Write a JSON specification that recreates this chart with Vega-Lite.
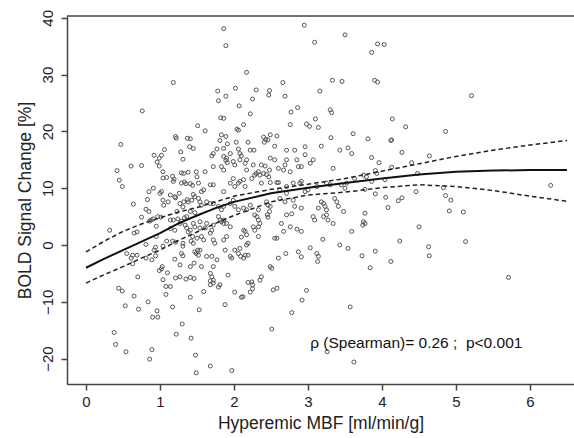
{
  "$schema": "https://vega.github.io/schema/vega-lite/v6.json",
  "width": 507,
  "height": 368,
  "autosize": {"type": "none"},
  "padding": {"left": 67, "top": 16, "right": 0, "bottom": 54},
  "background": "white",
  "config": {
    "view": {"stroke": null},
    "font": "Liberation Sans",
    "axis": {
      "domainColor": "#444444", "domainWidth": 1.5,
      "tickColor": "#444444", "tickWidth": 1.5, "tickSize": 6,
      "labelFont": "Liberation Sans", "labelFontSize": 15, "labelColor": "#222222",
      "titleFont": "Liberation Sans", "titleFontSize": 17.5, "titleFontWeight": "normal", "titleColor": "#222222",
      "grid": false
    }
  },
  "datasets": {
    "pts": [
      {"x":1.18,"y":28.6},{"x":0.76,"y":23.6},{"x":1.51,"y":21.0},{"x":0.47,"y":17.7},{"x":1.21,"y":19.1},{"x":1.22,"y":18.8},{"x":1.37,"y":18.8},{"x":1.41,"y":18.7},{"x":1.06,"y":16.8},{"x":1.40,"y":17.3},
      {"x":1.86,"y":38.1},{"x":1.89,"y":35.1},{"x":2.95,"y":38.7},{"x":3.09,"y":35.7},{"x":3.50,"y":37.0},{"x":3.94,"y":35.4},{"x":4.03,"y":35.3},{"x":3.86,"y":33.9},{"x":2.17,"y":30.4},{"x":2.66,"y":28.6},{"x":3.33,"y":29.0},{"x":3.46,"y":28.8},{"x":3.90,"y":29.0},{"x":3.94,"y":28.7},{"x":1.78,"y":27.1},{"x":2.02,"y":27.6},{"x":2.30,"y":27.3},{"x":2.48,"y":27.2},{"x":2.47,"y":26.4},{"x":3.16,"y":27.1},{"x":1.79,"y":25.4},{"x":1.89,"y":26.2},{"x":2.25,"y":25.7},{"x":2.69,"y":26.2},{"x":2.07,"y":24.5},{"x":2.86,"y":24.2},{"x":2.77,"y":23.4},{"x":3.30,"y":23.8},{"x":3.32,"y":23.3},{"x":2.22,"y":23.1},{"x":1.82,"y":22.4},{"x":1.86,"y":22.3},{"x":3.10,"y":22.2},{"x":2.76,"y":21.2},{"x":2.98,"y":21.3},{"x":3.02,"y":20.9},{"x":3.14,"y":20.7},{"x":2.13,"y":21.2},{"x":1.61,"y":20.1},{"x":2.04,"y":20.4},{"x":2.06,"y":20.2},{"x":3.61,"y":19.6},{"x":3.31,"y":18.9},{"x":3.81,"y":18.7},{"x":1.83,"y":19.4},{"x":1.89,"y":19.1},{"x":1.81,"y":18.4},{"x":1.91,"y":17.8},{"x":2.40,"y":19.0},{"x":2.43,"y":18.6},{"x":2.49,"y":19.4},{"x":2.58,"y":19.2},{"x":2.46,"y":18.5},{"x":2.41,"y":18.1},{"x":2.19,"y":18.1},{"x":2.03,"y":18.1},{"x":2.55,"y":17.4},{"x":2.96,"y":17.3},{"x":3.18,"y":17.4},{"x":3.54,"y":17.1},{"x":1.77,"y":16.9},{"x":1.86,"y":17.0},{"x":2.06,"y":16.9},{"x":2.22,"y":16.7},{"x":2.27,"y":16.7},{"x":2.71,"y":16.7},{"x":2.82,"y":16.7},{"x":3.43,"y":16.7},
      {"x":5.21,"y":26.3},{"x":4.14,"y":22.2},{"x":4.32,"y":20.8},{"x":4.86,"y":20.0},{"x":4.13,"y":18.5},{"x":4.12,"y":18.4},
      {"x":0.42,"y":13.1},{"x":0.45,"y":11.4},{"x":0.49,"y":10.3},{"x":0.61,"y":13.9},{"x":0.75,"y":14.0},{"x":0.32,"y":2.6},{"x":0.64,"y":7.2},{"x":0.65,"y":2.1},{"x":0.69,"y":2.3},{"x":0.75,"y":4.9},{"x":0.81,"y":6.3},{"x":0.85,"y":5.9},{"x":0.83,"y":8.0},{"x":0.85,"y":9.4},{"x":0.91,"y":10.0},{"x":0.86,"y":4.2},{"x":0.88,"y":4.4},{"x":0.91,"y":4.6},{"x":0.97,"y":5.0},{"x":0.95,"y":3.3},{"x":0.92,"y":15.8},{"x":0.96,"y":14.6},{"x":0.99,"y":13.9},{"x":1.02,"y":15.8},{"x":0.99,"y":15.3},{"x":1.04,"y":11.8},{"x":1.02,"y":9.4},{"x":1.00,"y":9.1},{"x":1.05,"y":7.0},{"x":1.01,"y":4.9},{"x":0.95,"y":1.5},{"x":0.55,"y":-1.5},{"x":0.63,"y":-1.8},{"x":0.69,"y":-1.8},{"x":0.61,"y":-2.3},{"x":0.63,"y":-3.3},{"x":0.70,"y":-5.6},{"x":0.44,"y":-7.6},{"x":0.81,"y":-2.3},{"x":0.92,"y":-0.9},{"x":0.94,"y":-0.4},{"x":0.94,"y":-1.9},{"x":0.89,"y":-2.6},{"x":0.81,"y":0.1},{"x":0.99,"y":-4.5},{"x":1.02,"y":-4.2},{"x":1.03,"y":-3.8},{"x":1.04,"y":-6.1},{"x":1.10,"y":-4.9},{"x":1.14,"y":-7.3},{"x":1.08,"y":-7.3},{"x":1.21,"y":-5.8},{"x":1.27,"y":-5.6},{"x":1.35,"y":-6.0},{"x":1.41,"y":-5.7},{"x":1.46,"y":-5.9},{"x":1.27,"y":-3.5},{"x":1.20,"y":-2.5},{"x":1.31,"y":-1.9},{"x":1.49,"y":-1.5},{"x":1.46,"y":-3.2},{"x":1.51,"y":-0.9},{"x":1.04,"y":-0.2},{"x":1.09,"y":0.7},{"x":1.17,"y":0.7},{"x":1.21,"y":0.5},{"x":1.31,"y":0.3},{"x":1.31,"y":-0.2},{"x":1.42,"y":0.7},{"x":1.50,"y":1.2},{"x":1.14,"y":2.9},{"x":1.20,"y":2.6},{"x":1.14,"y":4.4},{"x":1.18,"y":4.4},{"x":1.24,"y":4.6},{"x":1.29,"y":4.2},{"x":1.33,"y":4.8},{"x":1.36,"y":5.0},{"x":1.41,"y":5.9},{"x":1.47,"y":5.7},{"x":1.04,"y":7.9},{"x":1.11,"y":7.6},{"x":1.14,"y":8.8},{"x":1.20,"y":8.5},{"x":1.21,"y":8.3},{"x":1.26,"y":9.1},{"x":1.29,"y":10.9},{"x":1.33,"y":11.1},{"x":1.35,"y":10.8},{"x":1.41,"y":10.8},{"x":1.44,"y":10.5},{"x":1.52,"y":10.9},{"x":1.04,"y":12.9},{"x":1.09,"y":11.9},{"x":1.17,"y":12.1},{"x":1.18,"y":11.2},{"x":1.19,"y":11.6},{"x":1.29,"y":12.7},{"x":1.38,"y":12.8},{"x":1.31,"y":15.1},{"x":1.28,"y":16.4},{"x":1.45,"y":17.0},{"x":1.50,"y":12.0},{"x":1.37,"y":8.0},{"x":1.43,"y":7.9},{"x":1.45,"y":8.9},{"x":1.23,"y":5.9},{"x":1.31,"y":6.7},{"x":1.38,"y":2.3},{"x":1.44,"y":1.5},
      {"x":1.72,"y":16.1},{"x":1.70,"y":15.7},{"x":1.95,"y":16.1},{"x":2.08,"y":16.1},{"x":2.10,"y":15.7},{"x":2.96,"y":15.9},{"x":3.59,"y":16.1},{"x":1.86,"y":15.6},{"x":1.89,"y":14.9},{"x":1.91,"y":14.5},{"x":1.90,"y":15.3},{"x":2.08,"y":15.0},{"x":2.15,"y":14.4},{"x":2.17,"y":15.0},{"x":2.26,"y":14.1},{"x":2.37,"y":14.1},{"x":2.42,"y":13.9},{"x":2.48,"y":13.2},{"x":2.44,"y":12.4},{"x":2.47,"y":12.0},{"x":2.55,"y":15.0},{"x":2.60,"y":13.5},{"x":2.67,"y":13.2},{"x":2.69,"y":14.1},{"x":2.76,"y":12.9},{"x":2.87,"y":13.8},{"x":2.91,"y":13.8},{"x":3.03,"y":14.4},{"x":3.07,"y":15.0},{"x":3.34,"y":13.5},{"x":1.32,"y":12.6},{"x":1.49,"y":12.9},{"x":1.61,"y":12.9},{"x":1.72,"y":13.8},{"x":1.56,"y":9.4},{"x":1.59,"y":9.7},{"x":1.68,"y":10.6},{"x":1.72,"y":10.6},{"x":1.86,"y":9.4},{"x":1.95,"y":10.9},{"x":1.99,"y":11.7},{"x":2.01,"y":10.3},{"x":2.06,"y":10.9},{"x":2.08,"y":11.2},{"x":2.13,"y":11.5},{"x":2.15,"y":10.3},{"x":2.24,"y":11.7},{"x":2.28,"y":12.3},{"x":2.30,"y":12.6},{"x":2.33,"y":12.9},{"x":2.35,"y":12.3},{"x":2.40,"y":12.6},{"x":2.37,"y":10.9},{"x":2.49,"y":11.0},{"x":2.58,"y":11.0},{"x":2.60,"y":11.0},{"x":2.62,"y":9.7},{"x":2.71,"y":10.3},{"x":2.80,"y":10.9},{"x":2.89,"y":10.9},{"x":2.91,"y":11.2},{"x":2.96,"y":9.4},{"x":3.00,"y":9.7},{"x":3.12,"y":10.3},{"x":3.25,"y":10.9},{"x":3.30,"y":10.6},{"x":3.45,"y":10.6},{"x":3.50,"y":10.0},{"x":3.52,"y":10.9},{"x":3.63,"y":11.7},{"x":3.75,"y":12.3},{"x":3.79,"y":12.0},{"x":3.93,"y":12.6},{"x":3.77,"y":9.8},
      {"x":1.27,"y":7.3},{"x":1.32,"y":7.6},{"x":1.38,"y":7.6},{"x":1.47,"y":8.5},{"x":1.52,"y":8.2},{"x":1.54,"y":7.6},{"x":1.56,"y":7.0},{"x":1.63,"y":7.6},{"x":1.68,"y":7.3},{"x":1.72,"y":7.3},{"x":1.79,"y":6.8},{"x":1.83,"y":6.2},{"x":1.86,"y":6.8},{"x":1.95,"y":7.3},{"x":1.99,"y":7.9},{"x":2.01,"y":6.8},{"x":2.06,"y":6.2},{"x":2.13,"y":6.5},{"x":2.17,"y":6.2},{"x":2.22,"y":7.0},{"x":2.33,"y":6.2},{"x":2.44,"y":7.6},{"x":2.46,"y":7.0},{"x":2.49,"y":6.8},{"x":2.48,"y":5.9},{"x":2.45,"y":5.3},{"x":2.46,"y":4.9},{"x":2.62,"y":8.2},{"x":2.69,"y":7.6},{"x":2.71,"y":9.1},{"x":2.80,"y":7.9},{"x":2.82,"y":6.8},{"x":2.91,"y":6.5},{"x":2.71,"y":5.3},{"x":2.78,"y":5.5},{"x":3.07,"y":5.0},{"x":3.09,"y":4.4},{"x":3.14,"y":6.5},{"x":3.21,"y":7.3},{"x":3.23,"y":6.8},{"x":3.25,"y":6.2},{"x":3.21,"y":5.0},{"x":3.25,"y":5.3},{"x":3.27,"y":4.4},{"x":3.34,"y":3.8},{"x":3.39,"y":7.6},{"x":3.41,"y":6.8},{"x":3.48,"y":5.9},{"x":3.36,"y":8.2},{"x":3.18,"y":7.6},{"x":3.77,"y":5.6},{"x":3.75,"y":4.1},{"x":3.74,"y":3.5},{"x":3.77,"y":3.8},{"x":3.59,"y":2.4},{"x":3.43,"y":0.0},{"x":3.54,"y":-0.6},{"x":3.20,"y":1.0},{"x":3.73,"y":-1.9},{"x":2.91,"y":2.4},{"x":3.03,"y":-0.5},{"x":2.87,"y":-1.2},{"x":2.91,"y":-2.1},{"x":3.12,"y":-1.5},{"x":3.14,"y":-2.0},{"x":3.13,"y":-2.9},{"x":2.76,"y":3.2},{"x":2.85,"y":2.8},{"x":2.64,"y":3.8},{"x":2.67,"y":2.4},{"x":2.55,"y":1.2},{"x":2.58,"y":1.2},{"x":2.60,"y":-2.3},{"x":2.70,"y":-1.5},{"x":2.49,"y":-3.8},{"x":2.51,"y":-4.1},{"x":2.37,"y":-5.6},{"x":2.24,"y":-6.5},{"x":2.33,"y":3.2},{"x":2.35,"y":3.8},{"x":2.33,"y":4.4},{"x":2.31,"y":5.0},{"x":2.28,"y":5.3},{"x":2.26,"y":3.2},{"x":2.28,"y":2.6},{"x":2.33,"y":1.5},{"x":2.13,"y":2.6},{"x":2.15,"y":2.4},{"x":2.17,"y":1.8},{"x":2.10,"y":1.4},{"x":2.17,"y":0.0},{"x":2.19,"y":0.3},{"x":2.08,"y":-0.6},{"x":2.06,"y":-1.5},{"x":2.09,"y":-2.0},{"x":2.01,"y":-0.9},{"x":1.95,"y":3.2},{"x":1.90,"y":3.8},{"x":1.86,"y":3.8},{"x":1.86,"y":4.4},{"x":1.79,"y":5.0},{"x":1.81,"y":4.4},{"x":1.83,"y":4.1},{"x":1.72,"y":3.5},{"x":1.70,"y":2.6},{"x":1.68,"y":2.1},{"x":1.63,"y":3.8},{"x":1.61,"y":3.0},{"x":1.54,"y":4.1},{"x":1.54,"y":3.0},{"x":1.45,"y":3.8},{"x":1.47,"y":3.2},{"x":1.41,"y":2.6},{"x":1.34,"y":3.5},{"x":1.36,"y":3.0},{"x":1.27,"y":3.8},{"x":1.56,"y":1.5},{"x":1.59,"y":0.9},{"x":1.72,"y":0.9},{"x":1.74,"y":0.3},{"x":1.86,"y":0.9},{"x":1.90,"y":1.5},{"x":1.45,"y":0.3},{"x":1.29,"y":-1.5},{"x":1.47,"y":-1.2},{"x":1.52,"y":-1.8},{"x":1.54,"y":-0.9},{"x":1.63,"y":-2.0},{"x":1.70,"y":-2.0},{"x":1.77,"y":-2.6},{"x":1.88,"y":-0.9},{"x":1.95,"y":-2.0},{"x":1.97,"y":-2.3},{"x":1.41,"y":-3.8},{"x":1.56,"y":-3.8},{"x":1.72,"y":-3.8},{"x":1.68,"y":-5.0},{"x":1.70,"y":-5.6},{"x":1.72,"y":-6.2},{"x":1.81,"y":-7.0},{"x":1.92,"y":-5.3},{"x":1.68,"y":-7.0},{"x":2.13,"y":-2.3},{"x":2.15,"y":-1.8},{"x":2.19,"y":-1.8},{"x":2.53,"y":-7.9},{"x":2.58,"y":-7.6},{"x":1.83,"y":13.8},{"x":1.86,"y":13.2},{"x":1.99,"y":14.7},{"x":2.01,"y":14.1},{"x":2.17,"y":13.2},{"x":2.49,"y":15.3},{"x":2.71,"y":15.0},{"x":2.85,"y":15.0},
      {"x":3.86,"y":15.4},{"x":3.96,"y":14.5},{"x":4.27,"y":16.3},{"x":4.40,"y":14.5},{"x":4.64,"y":15.7},{"x":3.91,"y":13.1},{"x":4.13,"y":13.7},{"x":4.48,"y":12.6},{"x":3.86,"y":11.2},{"x":4.04,"y":11.5},{"x":3.91,"y":9.0},{"x":4.05,"y":8.4},{"x":4.08,"y":6.6},{"x":4.22,"y":7.8},{"x":4.27,"y":8.3},{"x":4.46,"y":9.4},{"x":4.83,"y":10.1},{"x":4.86,"y":8.7},{"x":4.93,"y":7.9},{"x":4.91,"y":6.0},{"x":5.10,"y":5.8},{"x":6.28,"y":10.5},{"x":4.50,"y":3.2},{"x":4.24,"y":0.7},{"x":3.91,"y":-1.1},{"x":4.63,"y":-0.3},{"x":4.64,"y":-1.9},{"x":5.13,"y":0.6},{"x":4.12,"y":-2.9},{"x":3.84,"y":-4.0},{"x":5.71,"y":-5.7},
      {"x":0.49,"y":-8.1},{"x":0.65,"y":-9.0},{"x":0.84,"y":-10.0},{"x":0.53,"y":-10.7},{"x":0.71,"y":-11.3},{"x":0.96,"y":-11.6},{"x":0.90,"y":-12.7},{"x":0.97,"y":-12.7},{"x":1.08,"y":-8.7},{"x":1.17,"y":-10.9},{"x":1.41,"y":-9.2},{"x":1.53,"y":-11.4},{"x":1.30,"y":-13.9},{"x":1.22,"y":-15.7},{"x":1.42,"y":-16.4},{"x":0.38,"y":-15.4},{"x":0.40,"y":-17.5},{"x":0.54,"y":-18.8},{"x":0.89,"y":-18.4},{"x":0.86,"y":-20.1},{"x":1.48,"y":-19.4},{"x":1.49,"y":-22.5},
      {"x":1.68,"y":-6.3},{"x":1.72,"y":-6.7},{"x":1.79,"y":-7.4},{"x":2.19,"y":-6.6},{"x":2.25,"y":-7.0},{"x":2.25,"y":-7.7},{"x":2.22,"y":-8.3},{"x":1.59,"y":-8.2},{"x":2.01,"y":-8.3},{"x":2.12,"y":-9.1},{"x":2.10,"y":-9.2},{"x":1.88,"y":-10.5},{"x":2.51,"y":-14.8},{"x":2.78,"y":-11.9},{"x":2.92,"y":-9.7},{"x":2.98,"y":-8.0},{"x":3.57,"y":-10.9},{"x":1.68,"y":-21.3},{"x":1.97,"y":-22.1},{"x":3.26,"y":-18.8},{"x":3.62,"y":-20.6},{"x":2.35,"y":-6.2}
    ],
    "fitline": [
      {"x":0,"fit":-4.0,"lo":-6.7,"hi":-1.2},
      {"x":0.25,"fit":-2.4,"lo":-5.2,"hi":0.7},
      {"x":0.5,"fit":-0.9,"lo":-3.8,"hi":2.4},
      {"x":0.75,"fit":0.6,"lo":-2.3,"hi":3.7},
      {"x":1,"fit":2.1,"lo":-0.9,"hi":4.8},
      {"x":1.25,"fit":3.8,"lo":0.8,"hi":5.8},
      {"x":1.5,"fit":5.2,"lo":2.3,"hi":6.6},
      {"x":1.75,"fit":6.5,"lo":3.8,"hi":7.6},
      {"x":2,"fit":7.6,"lo":5.2,"hi":8.6},
      {"x":2.5,"fit":9.1,"lo":7.6,"hi":9.8},
      {"x":3,"fit":10.1,"lo":8.8,"hi":10.7},
      {"x":3.5,"fit":10.9,"lo":9.3,"hi":11.7},
      {"x":4,"fit":11.7,"lo":10.1,"hi":13.0},
      {"x":4.5,"fit":12.4,"lo":10.6,"hi":14.3},
      {"x":5,"fit":12.9,"lo":10.3,"hi":15.6},
      {"x":5.5,"fit":13.1,"lo":9.6,"hi":16.7},
      {"x":6,"fit":13.2,"lo":8.6,"hi":17.6},
      {"x":6.5,"fit":13.2,"lo":7.7,"hi":18.4}
    ],
    "frame": [
      {"top": 40.32}
    ],
    "note": [
      {"x":3.03,"y":-17.25,"label":"ρ (Spearman)= 0.26 ; \u00a0p<0.001"}
    ]
  },
  "layer": [
    {
      "data": {"name": "pts"},
      "mark": {"type": "point", "shape": "circle", "filled": false, "size": 16, "strokeWidth": 1, "color": "#555555", "opacity": 1},
      "encoding": {
        "x": {"field": "x", "type": "quantitative",
              "scale": {"domain": [-0.257, 6.595], "nice": false, "zero": false},
              "axis": {"values": [0,1,2,3,4,5,6], "title": "Hyperemic MBF [ml/min/g]", "labelPadding": 4, "titlePadding": 5, "format": "d"}},
        "y": {"field": "y", "type": "quantitative",
              "scale": {"domain": [-24.47, 40.32], "nice": false, "zero": false},
              "axis": {"values": [-20,-10,0,10,20,30,40], "title": "BOLD Signal Change [%]", "labelAngle": 270, "labelAlign": "center", "labelBaseline": "alphabetic", "labelPadding": 9, "titlePadding": 6, "format": "d"}}
      }
    },
    {
      "data": {"name": "frame"},
      "mark": {"type": "rule", "color": "#444444", "strokeWidth": 1.5},
      "encoding": {
        "y": {"field": "top", "type": "quantitative"}
      }
    },
    {
      "data": {"name": "fitline"},
      "mark": {"type": "line", "color": "#111111", "strokeWidth": 2},
      "encoding": {
        "x": {"field": "x", "type": "quantitative"},
        "y": {"field": "fit", "type": "quantitative"}
      }
    },
    {
      "data": {"name": "fitline"},
      "mark": {"type": "line", "color": "#222222", "strokeWidth": 1.5, "strokeDash": [4.5, 3]},
      "encoding": {
        "x": {"field": "x", "type": "quantitative"},
        "y": {"field": "lo", "type": "quantitative"}
      }
    },
    {
      "data": {"name": "fitline"},
      "mark": {"type": "line", "color": "#222222", "strokeWidth": 1.5, "strokeDash": [4.5, 3]},
      "encoding": {
        "x": {"field": "x", "type": "quantitative"},
        "y": {"field": "hi", "type": "quantitative"}
      }
    },
    {
      "data": {"name": "note"},
      "mark": {"type": "text", "align": "left", "baseline": "middle", "fontSize": 15.5, "font": "Liberation Sans", "color": "#111111"},
      "encoding": {
        "x": {"field": "x", "type": "quantitative"},
        "y": {"field": "y", "type": "quantitative"},
        "text": {"field": "label"}
      }
    }
  ]
}
